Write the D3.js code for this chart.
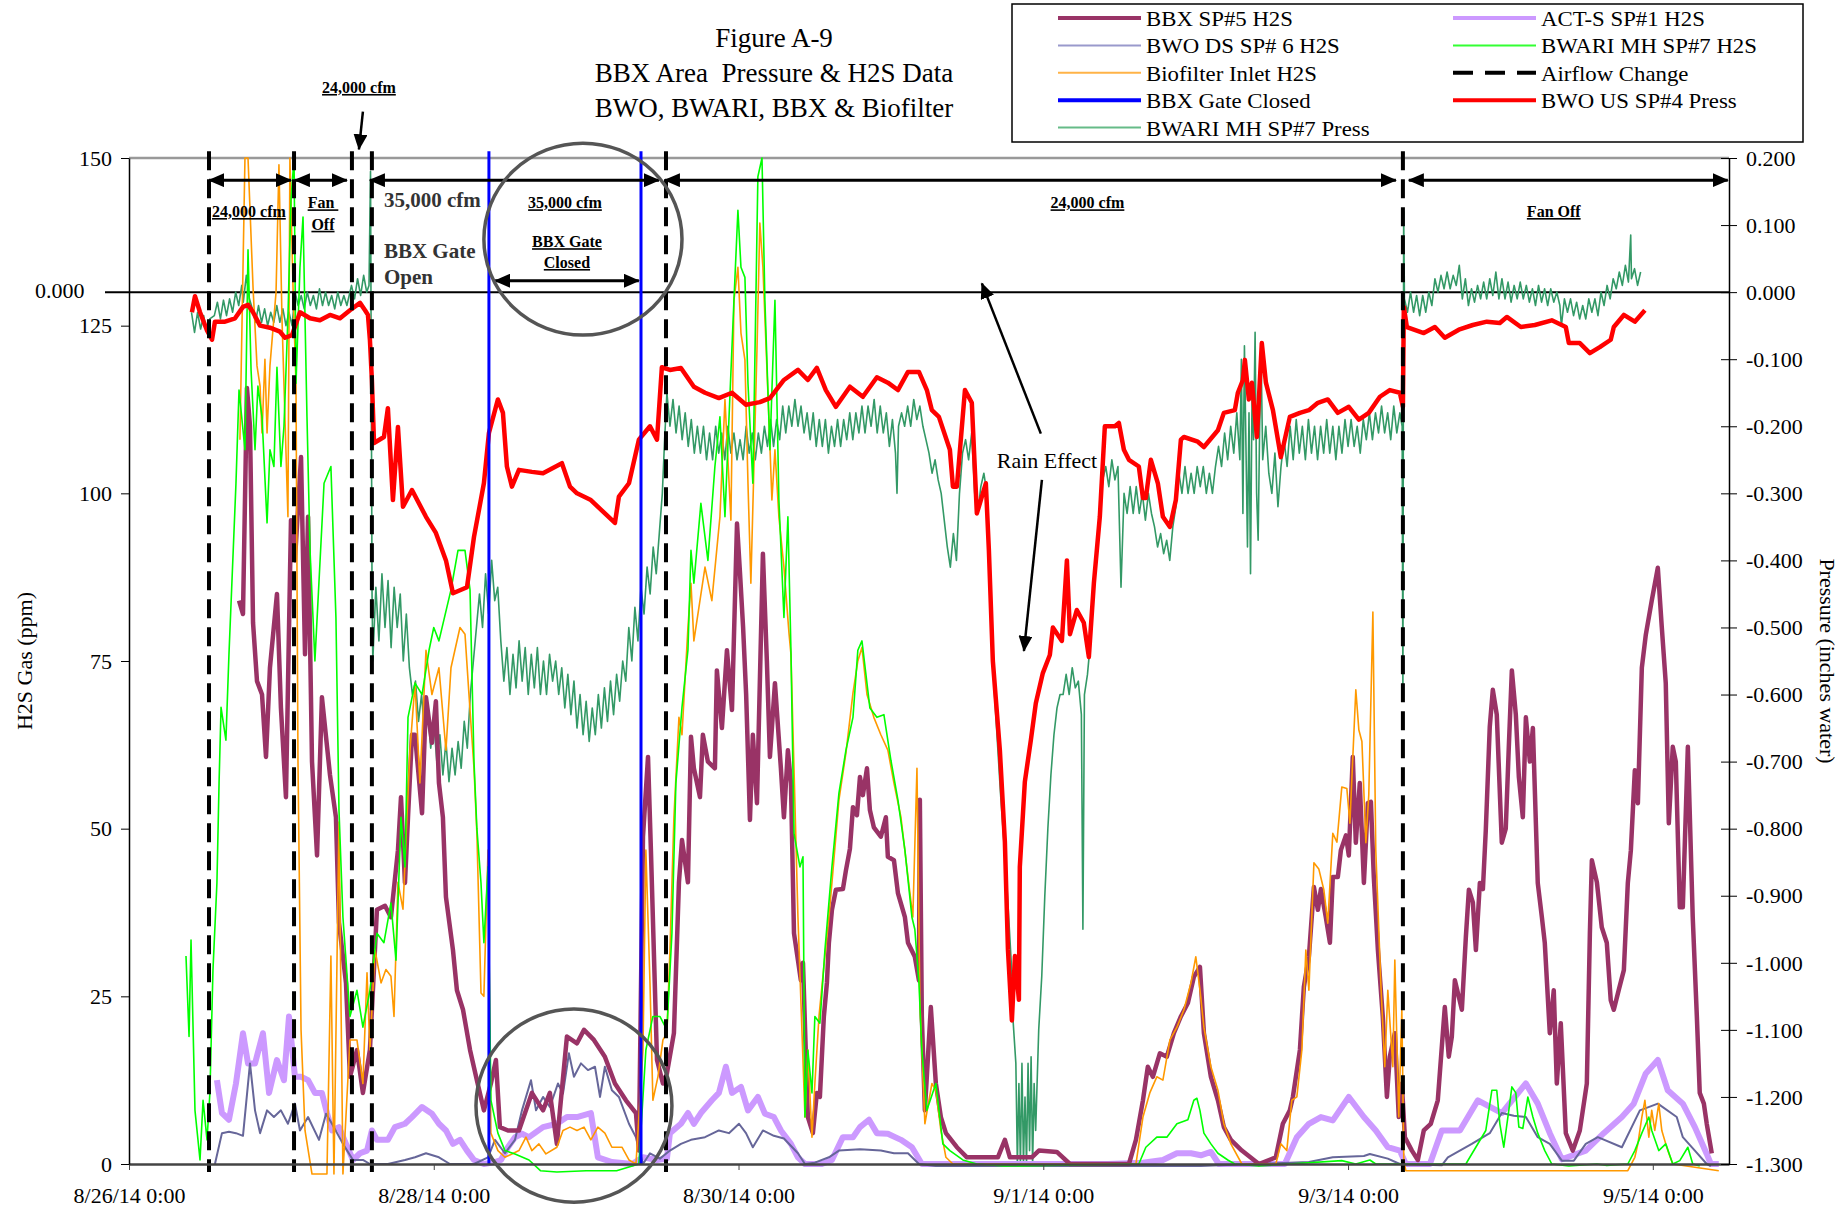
<!DOCTYPE html>
<html>
<head>
<meta charset="utf-8">
<script src="https://cdn.jsdelivr.net/npm/d3@7"></script>
<style>
body { margin: 0; background: #fff; }
text { font-family: "Liberation Serif", "Times New Roman", serif; }
</style>
</head>
<body>
<div id="chart"></div>
<script>
var width = 1844;
var height = 1209;

// margins (plot area 1600 x 1006)
var margin = {top: 158, right: 115, bottom: 45, left: 129};
var chartW = width - margin.left - margin.right;
var chartH = height - margin.top - margin.bottom;

// ---- data: time is days after 8/26/14 0:00 ----
var dateTicks = [0, 2, 4, 6, 8, 10];
var dateLabels = ['8/26/14 0:00', '8/28/14 0:00', '8/30/14 0:00', '9/1/14 0:00', '9/3/14 0:00', '9/5/14 0:00'];
var h2sTicks = [0, 25, 50, 75, 100, 125, 150];
var pressTicks = [0.2, 0.1, 0, -0.1, -0.2, -0.3, -0.4, -0.5, -0.6, -0.7, -0.8, -0.9, -1.0, -1.1, -1.2, -1.3];

var airflowChange = [0.525, 1.083, 1.463, 1.594, 3.524, 8.36];
var gateClosed = [2.362, 3.36];

// BBX SP#5 H2S (ppm)
var bbxH2S = [[0.722,84],[0.748,82],[0.774,115.7],[0.794,110],[0.814,80.7],[0.840,72],[0.873,70],[0.899,60.7],[0.925,74],[0.971,85],[0.997,68],[1.030,54.7],[1.063,96],[1.089,90],[1.129,105.4],[1.155,76],[1.175,96.5],[1.201,60],[1.234,46],[1.266,69.6],[1.319,58],[1.358,51.7],[1.378,36],[1.424,27],[1.450,13],[1.496,17],[1.535,10.6],[1.581,17],[1.627,37.9],[1.680,38.5],[1.719,36.8],[1.765,46.8],[1.785,54.7],[1.811,41.9],[1.831,51.7],[1.857,64],[1.877,64],[1.923,52.3],[1.949,69.6],[1.988,62.8],[2.014,69],[2.034,56.8],[2.060,51.7],[2.080,39.8],[2.126,31.9],[2.152,25.9],[2.192,23],[2.238,17],[2.283,12.5],[2.329,8],[2.375,12],[2.408,15.5],[2.434,5.5],[2.487,5],[2.559,5],[2.605,8],[2.644,10.6],[2.717,8],[2.762,10.6],[2.808,3],[2.828,8],[2.874,19],[2.940,18],[2.986,20],[3.051,18.5],[3.123,16],[3.189,12],[3.261,9.5],[3.327,7.6],[3.346,2],[3.373,48.8],[3.406,60.7],[3.425,46.8],[3.465,15.5],[3.504,12],[3.530,13.5],[3.576,19.5],[3.609,42],[3.629,48.3],[3.668,42],[3.688,63.7],[3.707,59],[3.747,54.7],[3.766,64],[3.799,60],[3.845,59],[3.858,73.6],[3.891,65],[3.924,76.6],[3.957,67.7],[3.990,95.5],[4.010,88],[4.030,80],[4.050,70],[4.075,51.3],[4.094,64],[4.121,53.8],[4.160,91],[4.186,75],[4.206,60.7],[4.239,71.7],[4.278,59],[4.298,51.7],[4.324,61.7],[4.344,56.8],[4.364,34.4],[4.390,30.4],[4.409,27.4],[4.423,30],[4.455,7],[4.488,4.6],[4.514,10.6],[4.534,10],[4.560,22],[4.580,27],[4.593,33],[4.613,37.9],[4.639,40.9],[4.685,41],[4.705,43.8],[4.731,47],[4.751,53.2],[4.777,52],[4.797,57.7],[4.816,55],[4.843,59],[4.862,52.8],[4.888,50.2],[4.934,48.8],[4.967,51.7],[4.980,45.8],[5.020,45.3],[5.046,40.4],[5.092,36.8],[5.112,33],[5.157,30.9],[5.184,27.4],[5.190,54.3],[5.203,22],[5.223,8],[5.262,23.4],[5.295,12],[5.328,7],[5.361,4.6],[5.433,2.5],[5.499,1],[5.702,1],[5.748,3.6],[5.781,1],[5.925,1],[5.971,2],[6.089,1.8],[6.175,0],[6.562,0],[6.608,3.6],[6.654,9.5],[6.686,14.5],[6.719,13],[6.765,16.5],[6.811,16],[6.857,19.5],[6.903,22],[6.949,24],[6.988,27.9],[7.028,29.4],[7.054,19.5],[7.100,13],[7.146,9.5],[7.185,5.5],[7.231,3.6],[7.303,2],[7.415,0],[7.526,1],[7.572,6],[7.618,8],[7.638,10],[7.684,17],[7.710,26.4],[7.743,30.9],[7.776,41.3],[7.802,37.9],[7.822,41],[7.854,36.8],[7.881,33],[7.900,42.8],[7.933,42.8],[7.953,46.8],[7.986,49],[8.005,46],[8.031,60.7],[8.051,47.9],[8.077,56.8],[8.104,41.9],[8.130,53.8],[8.150,54],[8.169,42.8],[8.196,31.9],[8.228,22],[8.255,10],[8.274,16],[8.307,19.5],[8.333,7],[8.353,12],[8.373,4],[8.419,2],[8.458,0.6],[8.497,5],[8.543,6],[8.589,9.5],[8.635,23.4],[8.661,16],[8.681,19],[8.701,27.4],[8.747,23],[8.773,33.8],[8.793,40.9],[8.819,39],[8.839,31.9],[8.865,41.9],[8.885,41],[8.904,49.8],[8.930,65.2],[8.950,70.7],[8.976,67],[9.009,47.9],[9.035,50],[9.055,62.2],[9.075,73.6],[9.101,67],[9.121,57.7],[9.147,51.7],[9.167,66.6],[9.193,60],[9.213,65],[9.245,41.9],[9.272,36.8],[9.291,33],[9.324,19.5],[9.350,25.9],[9.370,12],[9.396,21],[9.429,4.6],[9.475,2],[9.521,5],[9.567,12],[9.587,34.4],[9.600,45.3],[9.633,42],[9.665,35.3],[9.698,33],[9.724,24.4],[9.744,23],[9.777,26],[9.810,28.9],[9.836,41.9],[9.856,46.8],[9.882,58.7],[9.902,53.8],[9.928,74],[9.954,78.9],[9.993,84],[10.033,88.9],[10.059,80],[10.085,71.7],[10.105,50.8],[10.131,62.2],[10.151,60],[10.177,38.3],[10.197,38.3],[10.230,62.2],[10.262,36.8],[10.289,22],[10.308,10.6],[10.335,9],[10.354,6],[10.387,1.6]];

// ACT-S SP#1 H2S (ppm)
var actsH2S = [[0.577,12.5],[0.610,7.6],[0.656,6.6],[0.702,12],[0.748,19.5],[0.781,15],[0.827,15],[0.879,19.5],[0.919,10.6],[0.971,15.5],[1.017,12.5],[1.050,22],[1.089,13],[1.129,13],[1.175,12.5],[1.220,10.6],[1.266,10.6],[1.299,7.6],[1.332,5],[1.378,5.5],[1.424,3],[1.470,0.6],[1.516,1.6],[1.562,2],[1.594,5],[1.627,3.6],[1.699,3.6],[1.745,5.5],[1.811,6],[1.857,7],[1.923,8.5],[1.988,7.5],[2.034,6],[2.080,5],[2.126,3],[2.172,3.6],[2.218,2],[2.264,0.6],[2.329,0],[2.402,0.3],[2.441,0.6],[2.487,2.5],[2.533,4],[2.579,4.5],[2.625,4],[2.717,5.5],[2.808,6],[2.874,7],[2.940,7],[3.031,7.6],[3.077,1],[3.169,0.3],[3.301,0],[3.373,1],[3.465,0.6],[3.530,0.8],[3.550,4.6],[3.622,6],[3.668,7.6],[3.707,6],[3.753,7.6],[3.825,9.5],[3.871,10.6],[3.917,14.5],[3.957,10.6],[4.016,11.5],[4.062,8],[4.127,10],[4.173,7.5],[4.232,7],[4.278,5],[4.344,3],[4.390,1],[4.436,0],[4.547,0],[4.613,0.6],[4.685,4],[4.751,4],[4.797,5.5],[4.856,6.6],[4.908,4.6],[4.980,4.5],[5.066,3.6],[5.138,2.5],[5.203,0],[5.518,0],[5.971,0],[6.424,0],[6.654,0.2],[6.785,0.6],[6.877,1.6],[6.969,1.6],[7.034,1.3],[7.100,1.8],[7.152,0],[7.585,0],[7.664,4],[7.743,6],[7.822,7],[7.900,6.5],[8.005,10],[8.104,7],[8.182,5],[8.261,2.5],[8.340,2],[8.379,0],[8.537,0],[8.615,5],[8.734,5],[8.852,9.5],[9.009,7.6],[9.167,12],[9.245,9],[9.324,4.6],[9.403,0.7],[9.560,2],[9.678,4.6],[9.797,7],[9.875,9],[9.954,13.5],[10.033,15.5],[10.098,11],[10.197,9],[10.276,5.5],[10.354,1.5],[10.381,0],[10.433,0]];

// BWO DS SP# 6 H2S (ppm)
var bwoDsH2S = [[0.564,0],[0.610,4.6],[0.656,4.8],[0.702,4.6],[0.748,4.2],[0.794,15],[0.827,8],[0.860,4.6],[0.906,8],[0.951,7],[0.997,8],[1.043,6],[1.089,9],[1.122,5],[1.175,7],[1.247,3.6],[1.293,7.5],[1.332,6],[1.404,3],[1.470,0.6],[1.535,0.6],[1.581,0],[1.699,0],[1.811,0.6],[1.877,1],[1.949,1.6],[2.034,1],[2.106,0],[2.264,0],[2.356,1],[2.402,3.6],[2.467,1.6],[2.533,3.6],[2.579,8],[2.638,12.5],[2.671,8],[2.717,10],[2.762,8.5],[2.815,12],[2.848,10.5],[2.887,16.5],[2.920,13],[2.966,15],[3.012,14],[3.058,14.5],[3.091,10],[3.123,14.5],[3.169,11],[3.215,10],[3.281,6],[3.327,4],[3.373,0],[3.419,1.6],[3.484,0.8],[3.550,2],[3.622,3],[3.688,3.6],[3.780,4],[3.871,5],[3.937,4.6],[4.003,6],[4.049,4.6],[4.094,2.5],[4.160,5],[4.232,4.2],[4.298,3.8],[4.390,1.6],[4.436,0],[4.501,0.2],[4.593,1],[4.659,2],[4.797,2.2],[4.934,2],[5.020,1.6],[5.112,1.6],[5.184,0],[5.295,-0.3],[7.034,-0.3],[7.743,0.3],[7.900,1],[8.104,1.2],[8.143,1.5],[8.261,0.8],[8.340,0],[8.615,-0.2],[8.655,1],[8.812,3],[8.930,4.6],[9.009,7.6],[9.088,7.2],[9.167,7],[9.245,4],[9.324,3],[9.403,0.5],[9.482,0.5],[9.560,3],[9.639,4],[9.797,2.5],[9.915,8],[10.033,9],[10.157,7],[10.197,4],[10.276,2],[10.354,0],[10.381,-0.3]];

// Biofilter Inlet H2S (ppm)
var biofilterH2S = [[0.728,108],[0.761,150],[0.781,150],[0.814,130.7],[0.840,119],[0.860,116],[0.873,109],[0.892,120],[0.906,109],[0.925,119],[0.965,130],[0.984,149],[1.004,126],[1.043,96.5],[1.056,150],[1.076,131],[1.096,116],[1.109,60],[1.129,20],[1.155,5],[1.201,-1.5],[1.299,-1.5],[1.325,31],[1.345,-1.5],[1.378,51],[1.404,-1.5],[1.450,18.5],[1.496,18.5],[1.535,12],[1.562,28.5],[1.581,17],[1.614,32],[1.654,27],[1.686,29],[1.719,28],[1.739,22],[1.765,42],[1.798,38],[1.824,51.7],[1.844,61.7],[1.877,71.7],[1.909,56.8],[1.949,76.6],[1.988,70],[2.034,74],[2.080,61.7],[2.113,74],[2.172,80],[2.205,79],[2.231,70],[2.264,59],[2.283,49.3],[2.310,25.5],[2.329,25],[2.356,46.8],[2.375,4.6],[2.421,2],[2.467,1],[2.513,1.5],[2.559,2],[2.605,4],[2.644,2],[2.690,3],[2.736,1.5],[2.808,2.5],[2.848,5],[2.894,5.5],[2.940,5],[2.986,5.5],[3.031,3.6],[3.077,5.5],[3.123,4.6],[3.169,2.5],[3.235,2.5],[3.281,0.6],[3.327,0],[3.373,17],[3.392,46.8],[3.419,27],[3.438,9.5],[3.471,13],[3.504,18.5],[3.530,19.5],[3.550,31.9],[3.576,51.7],[3.609,66.6],[3.629,64],[3.668,80],[3.688,86.6],[3.707,78],[3.780,89],[3.825,84],[3.878,96.5],[3.911,114],[3.950,96],[3.970,128.8],[3.996,133.7],[4.016,123.9],[4.042,119.9],[4.062,101.5],[4.081,86.6],[4.121,121.4],[4.140,140.3],[4.160,133.7],[4.199,111.4],[4.219,99],[4.239,106.5],[4.265,96.5],[4.298,89],[4.331,79.2],[4.344,76],[4.364,59],[4.390,36.8],[4.436,7],[4.455,17],[4.482,4],[4.501,12],[4.528,22],[4.560,29.4],[4.593,36.8],[4.613,41.9],[4.659,54.3],[4.705,61.3],[4.751,70.2],[4.783,75],[4.810,77],[4.843,70],[4.888,66.6],[4.934,64],[4.980,61.7],[5.020,56.8],[5.066,51.7],[5.112,42.8],[5.144,36.8],[5.171,59],[5.190,24.4],[5.223,6],[5.269,12],[5.295,11],[5.328,5],[5.361,1],[5.407,0],[6.608,0],[6.654,7],[6.699,10.6],[6.745,13],[6.785,12.5],[6.831,18.5],[6.877,20.4],[6.923,23],[6.969,27],[7.001,30.9],[7.028,26],[7.054,20.4],[7.100,14.5],[7.146,11],[7.185,6],[7.231,3],[7.303,0],[7.526,0],[7.559,3],[7.598,2],[7.631,9.5],[7.664,10],[7.697,17],[7.723,31.9],[7.743,25.9],[7.776,44.9],[7.808,44],[7.841,40.9],[7.867,35.9],[7.900,49.3],[7.927,48],[7.959,56.2],[7.992,56],[8.012,50.8],[8.051,70.7],[8.071,64.7],[8.091,63],[8.117,47.9],[8.136,55],[8.163,82.3],[8.182,46.8],[8.215,27],[8.241,14.5],[8.261,25.9],[8.294,14.5],[8.307,30.4],[8.333,7],[8.353,23],[8.366,0.6],[8.379,-1],[9.836,-1],[9.882,1],[9.902,3],[9.928,7],[9.948,9.5],[9.974,4],[9.993,8],[10.013,5],[10.039,9],[10.059,5],[10.085,3],[10.105,1.6],[10.131,0],[10.433,-1]];

// BWARI MH SP#7 H2S (ppm)
var bwariH2S = [[0.374,31],[0.394,19],[0.407,33.4],[0.433,8],[0.466,0.6],[0.486,9.5],[0.512,3.6],[0.531,10.6],[0.551,28.9],[0.577,41.9],[0.591,56.8],[0.604,68.1],[0.636,63.2],[0.656,76],[0.702,101.5],[0.722,115.4],[0.761,106.5],[0.781,136.3],[0.801,118.4],[0.827,106.5],[0.846,116],[0.873,111.4],[0.906,95.6],[0.925,106.5],[0.951,104],[0.971,118.8],[0.997,104],[1.017,110],[1.043,126.3],[1.063,143.7],[1.083,150],[1.096,116.4],[1.122,133.7],[1.142,141.2],[1.168,111.4],[1.188,91.5],[1.220,75],[1.280,101.5],[1.325,104],[1.358,81.5],[1.378,52.8],[1.404,36.8],[1.450,22],[1.496,25.9],[1.535,20.4],[1.581,25.9],[1.627,34.4],[1.673,33],[1.719,38.9],[1.752,30.4],[1.785,51.7],[1.811,44.3],[1.831,66.6],[1.877,71.7],[1.923,70],[1.969,76.6],[2.000,80],[2.034,78],[2.113,85.6],[2.159,91.5],[2.205,91.5],[2.238,85.6],[2.264,60],[2.283,50],[2.310,41.9],[2.329,33],[2.356,44.3],[2.375,9.5],[2.421,4.6],[2.467,2],[2.533,1.5],[2.625,0.6],[2.700,-1],[2.808,-1.2],[3.000,-1],[3.200,-1],[3.346,0],[3.392,17],[3.438,22],[3.484,22],[3.530,20],[3.563,34.4],[3.589,56.8],[3.629,68.1],[3.668,76.6],[3.688,91.5],[3.707,86.6],[3.753,98.5],[3.799,90],[3.845,104],[3.878,111.4],[3.911,96.5],[3.937,111],[3.970,128.8],[3.996,142.2],[4.016,133.7],[4.042,132.2],[4.062,116.4],[4.094,101.5],[4.127,147.2],[4.154,150],[4.173,128.8],[4.206,106.5],[4.239,128.8],[4.265,99],[4.298,81.5],[4.324,96.5],[4.344,76.6],[4.364,49.3],[4.403,44.3],[4.423,45.8],[4.436,7],[4.455,17],[4.482,10.6],[4.501,22],[4.534,21],[4.567,31.9],[4.613,44.3],[4.659,55.3],[4.705,61.7],[4.751,66.6],[4.783,76.6],[4.810,78],[4.862,68],[4.908,66.6],[4.954,67],[5.000,60.2],[5.046,54.3],[5.092,46.8],[5.138,36.8],[5.157,35],[5.184,27],[5.203,17],[5.236,8],[5.295,12],[5.341,3],[5.387,2],[5.472,0.6],[5.564,0],[5.748,-0.3],[6.627,0],[6.673,2.5],[6.745,4],[6.811,4],[6.877,6],[6.949,6.6],[6.988,9.5],[7.008,9.8],[7.028,8],[7.054,4.6],[7.100,3],[7.146,1.6],[7.211,0.6],[7.257,0],[7.415,-0.3],[7.959,0.5],[8.051,0],[8.143,0.6],[8.182,0],[8.773,0],[8.904,5],[8.944,11],[8.976,11],[8.996,6],[9.022,2.5],[9.055,8],[9.075,11.5],[9.101,10.6],[9.121,5.5],[9.147,5.3],[9.180,10],[9.213,7],[9.245,4.6],[9.291,2],[9.337,0],[9.449,-0.3],[9.633,0],[9.698,-0.2],[9.836,0],[9.882,2],[9.928,4.6],[9.974,7],[9.993,5],[10.039,2],[10.085,3],[10.131,0],[10.177,0.5],[10.230,2.5],[10.262,0],[10.308,-0.3]];

// BWO US SP#4 Press (inches water)
var bwoUsPress = [[0.413,-0.03],[0.433,-0.006],[0.466,-0.03],[0.512,-0.057],[0.545,-0.071],[0.564,-0.044],[0.630,-0.044],[0.696,-0.039],[0.748,-0.022],[0.781,-0.019],[0.814,-0.03],[0.860,-0.05],[0.925,-0.053],[0.991,-0.059],[1.024,-0.068],[1.070,-0.064],[1.122,-0.03],[1.188,-0.039],[1.253,-0.042],[1.319,-0.034],[1.385,-0.039],[1.450,-0.027],[1.516,-0.016],[1.549,-0.027],[1.568,-0.034],[1.581,-0.071],[1.594,-0.131],[1.608,-0.225],[1.673,-0.216],[1.699,-0.173],[1.732,-0.31],[1.765,-0.201],[1.798,-0.32],[1.857,-0.295],[1.949,-0.335],[2.014,-0.359],[2.080,-0.40],[2.126,-0.449],[2.218,-0.44],[2.264,-0.365],[2.329,-0.285],[2.362,-0.21],[2.421,-0.16],[2.454,-0.18],[2.480,-0.26],[2.513,-0.29],[2.559,-0.265],[2.644,-0.268],[2.717,-0.27],[2.841,-0.255],[2.894,-0.29],[2.940,-0.30],[3.031,-0.31],[3.123,-0.33],[3.189,-0.344],[3.215,-0.305],[3.281,-0.285],[3.346,-0.22],[3.419,-0.20],[3.465,-0.22],[3.497,-0.112],[3.550,-0.116],[3.622,-0.113],[3.707,-0.141],[3.780,-0.15],[3.871,-0.158],[3.957,-0.15],[4.049,-0.168],[4.140,-0.164],[4.206,-0.158],[4.298,-0.131],[4.390,-0.116],[4.455,-0.131],[4.514,-0.113],[4.573,-0.146],[4.639,-0.171],[4.731,-0.141],[4.816,-0.156],[4.908,-0.127],[4.980,-0.135],[5.046,-0.146],[5.112,-0.119],[5.184,-0.119],[5.236,-0.146],[5.269,-0.176],[5.315,-0.186],[5.387,-0.235],[5.407,-0.29],[5.433,-0.29],[5.486,-0.146],[5.531,-0.165],[5.564,-0.33],[5.597,-0.305],[5.623,-0.285],[5.643,-0.385],[5.669,-0.55],[5.715,-0.683],[5.748,-0.82],[5.768,-0.98],[5.794,-1.086],[5.814,-0.99],[5.840,-1.055],[5.846,-0.857],[5.879,-0.73],[5.919,-0.667],[5.951,-0.613],[5.997,-0.568],[6.043,-0.541],[6.063,-0.50],[6.122,-0.52],[6.155,-0.40],[6.175,-0.51],[6.220,-0.474],[6.266,-0.493],[6.299,-0.544],[6.332,-0.434],[6.371,-0.335],[6.404,-0.20],[6.470,-0.20],[6.496,-0.195],[6.529,-0.235],[6.562,-0.25],[6.627,-0.26],[6.654,-0.307],[6.673,-0.307],[6.706,-0.25],[6.752,-0.285],[6.785,-0.335],[6.831,-0.35],[6.870,-0.31],[6.903,-0.22],[6.923,-0.216],[7.014,-0.223],[7.054,-0.231],[7.146,-0.206],[7.185,-0.18],[7.257,-0.176],[7.277,-0.15],[7.310,-0.131],[7.323,-0.101],[7.349,-0.16],[7.369,-0.135],[7.402,-0.216],[7.434,-0.076],[7.461,-0.135],[7.507,-0.176],[7.559,-0.246],[7.618,-0.186],[7.684,-0.18],[7.743,-0.176],[7.802,-0.165],[7.867,-0.16],[7.933,-0.18],[8.005,-0.171],[8.071,-0.19],[8.136,-0.18],[8.209,-0.156],[8.274,-0.146],[8.340,-0.15],[8.360,-0.171],[8.366,-0.022],[8.386,-0.052],[8.497,-0.061],[8.570,-0.052],[8.635,-0.068],[8.727,-0.056],[8.819,-0.049],[8.911,-0.044],[8.996,-0.046],[9.042,-0.037],[9.134,-0.052],[9.226,-0.049],[9.337,-0.042],[9.429,-0.052],[9.449,-0.076],[9.521,-0.076],[9.587,-0.091],[9.652,-0.082],[9.724,-0.071],[9.744,-0.052],[9.810,-0.034],[9.882,-0.044],[9.948,-0.027]];

// BWARI MH SP#7 Press (inches water)
var bwariPress = [[0.41,-0.03],[0.43,-0.06],[0.45,-0.03],[0.47,-0.055],[0.49,-0.035],[0.51,-0.06],[0.53,-0.04],[0.56,-0.035],[0.58,-0.015],[0.60,-0.04],[0.62,-0.012],[0.64,-0.035],[0.66,-0.01],[0.68,-0.03],[0.70,0.0],[0.72,-0.02],[0.74,0.01],[0.75,-0.015],[0.77,0.025],[0.79,-0.01],[0.81,-0.025],[0.83,-0.045],[0.85,-0.02],[0.87,-0.045],[0.89,-0.025],[0.91,-0.05],[0.93,-0.03],[0.95,-0.045],[0.97,-0.02],[0.99,-0.045],[1.01,-0.025],[1.03,-0.05],[1.05,-0.03],[1.07,-0.05],[1.09,0.0],[1.11,-0.02],[1.13,-0.005],[1.15,-0.025],[1.17,0.0],[1.19,-0.02],[1.21,-0.005],[1.23,-0.025],[1.25,0.005],[1.27,-0.02],[1.29,0.0],[1.31,-0.02],[1.33,-0.005],[1.35,-0.025],[1.37,0.0],[1.39,-0.02],[1.41,-0.005],[1.43,-0.02],[1.46,0.01],[1.48,-0.01],[1.50,0.02],[1.52,-0.005],[1.54,0.025],[1.56,0.0],[1.575,0.01],[1.585,0.18],[1.595,-0.45],[1.60,-0.55],[1.62,-0.44],[1.64,-0.52],[1.66,-0.42],[1.68,-0.5],[1.70,-0.43],[1.72,-0.53],[1.74,-0.44],[1.76,-0.5],[1.78,-0.45],[1.80,-0.55],[1.82,-0.48],[1.84,-0.56],[1.86,-0.6],[1.88,-0.58],[1.90,-0.64],[1.92,-0.6],[1.94,-0.66],[1.96,-0.62],[1.98,-0.68],[2.00,-0.64],[2.02,-0.7],[2.04,-0.66],[2.06,-0.72],[2.08,-0.67],[2.10,-0.73],[2.12,-0.68],[2.14,-0.72],[2.16,-0.67],[2.18,-0.71],[2.20,-0.64],[2.22,-0.68],[2.24,-0.6],[2.26,-0.55],[2.28,-0.5],[2.30,-0.45],[2.32,-0.5],[2.34,-0.42],[2.36,-0.48],[2.38,-0.4],[2.40,-0.46],[2.42,-0.44],[2.44,-0.52],[2.46,-0.58],[2.48,-0.53],[2.50,-0.6],[2.52,-0.54],[2.54,-0.59],[2.56,-0.52],[2.58,-0.58],[2.60,-0.53],[2.62,-0.6],[2.64,-0.54],[2.66,-0.59],[2.68,-0.53],[2.70,-0.6],[2.72,-0.55],[2.74,-0.6],[2.76,-0.54],[2.78,-0.58],[2.80,-0.55],[2.82,-0.6],[2.84,-0.56],[2.86,-0.62],[2.88,-0.57],[2.90,-0.63],[2.92,-0.58],[2.94,-0.65],[2.96,-0.6],[2.98,-0.66],[3.00,-0.61],[3.02,-0.67],[3.04,-0.62],[3.06,-0.66],[3.08,-0.6],[3.10,-0.65],[3.12,-0.59],[3.14,-0.64],[3.16,-0.58],[3.18,-0.63],[3.20,-0.57],[3.22,-0.61],[3.24,-0.55],[3.26,-0.58],[3.28,-0.5],[3.30,-0.55],[3.32,-0.47],[3.34,-0.52],[3.36,-0.44],[3.38,-0.48],[3.40,-0.41],[3.42,-0.45],[3.44,-0.38],[3.46,-0.42],[3.48,-0.36],[3.50,-0.3],[3.515,-0.22],[3.53,-0.15],[3.55,-0.2],[3.57,-0.16],[3.59,-0.21],[3.61,-0.17],[3.63,-0.22],[3.65,-0.18],[3.67,-0.23],[3.69,-0.19],[3.71,-0.24],[3.73,-0.2],[3.75,-0.24],[3.77,-0.2],[3.79,-0.25],[3.81,-0.21],[3.83,-0.25],[3.85,-0.2],[3.87,-0.24],[3.89,-0.21],[3.91,-0.25],[3.93,-0.2],[3.95,-0.24],[3.97,-0.21],[3.99,-0.25],[4.01,-0.22],[4.03,-0.25],[4.05,-0.2],[4.07,-0.24],[4.09,-0.21],[4.11,-0.25],[4.13,-0.21],[4.15,-0.24],[4.17,-0.2],[4.19,-0.23],[4.21,-0.19],[4.23,-0.23],[4.25,-0.19],[4.27,-0.22],[4.29,-0.17],[4.31,-0.21],[4.33,-0.17],[4.35,-0.2],[4.37,-0.16],[4.39,-0.2],[4.41,-0.17],[4.43,-0.21],[4.45,-0.18],[4.47,-0.22],[4.49,-0.18],[4.51,-0.23],[4.53,-0.19],[4.55,-0.23],[4.57,-0.19],[4.59,-0.24],[4.61,-0.2],[4.63,-0.23],[4.65,-0.19],[4.67,-0.23],[4.69,-0.19],[4.71,-0.22],[4.73,-0.18],[4.75,-0.22],[4.77,-0.18],[4.79,-0.21],[4.81,-0.17],[4.83,-0.21],[4.85,-0.17],[4.87,-0.2],[4.89,-0.16],[4.91,-0.21],[4.93,-0.17],[4.95,-0.21],[4.97,-0.18],[4.99,-0.23],[5.01,-0.19],[5.03,-0.24],[5.04,-0.3],[5.05,-0.2],[5.07,-0.18],[5.09,-0.2],[5.11,-0.17],[5.13,-0.2],[5.15,-0.16],[5.17,-0.19],[5.19,-0.17],[5.21,-0.2],[5.23,-0.22],[5.25,-0.24],[5.27,-0.27],[5.29,-0.25],[5.31,-0.28],[5.33,-0.3],[5.35,-0.34],[5.37,-0.38],[5.39,-0.41],[5.41,-0.36],[5.43,-0.4],[5.45,-0.3],[5.47,-0.24],[5.49,-0.22],[5.51,-0.25],[5.53,-0.21],[5.55,-0.3],[5.57,-0.33],[5.59,-0.29],[5.61,-0.27],[5.63,-0.3],[5.65,-0.45],[5.68,-0.6],[5.72,-0.75],[5.76,-0.88],[5.79,-1.0],[5.80,-1.08],[5.82,-1.15],[5.83,-1.3],[5.84,-1.18],[5.85,-1.3],[5.86,-1.15],[5.87,-1.3],[5.88,-1.2],[5.89,-1.3],[5.90,-1.15],[5.91,-1.28],[5.92,-1.14],[5.93,-1.3],[5.94,-1.18],[5.95,-1.25],[5.97,-1.1],[5.99,-1.02],[6.01,-0.9],[6.03,-0.8],[6.05,-0.72],[6.07,-0.66],[6.09,-0.62],[6.11,-0.6],[6.13,-0.6],[6.15,-0.57],[6.17,-0.6],[6.19,-0.56],[6.21,-0.59],[6.23,-0.58],[6.25,-0.63],[6.26,-0.95],[6.27,-0.6],[6.29,-0.57],[6.31,-0.52],[6.33,-0.45],[6.35,-0.38],[6.37,-0.33],[6.39,-0.28],[6.41,-0.26],[6.43,-0.29],[6.45,-0.25],[6.47,-0.28],[6.49,-0.26],[6.51,-0.44],[6.53,-0.3],[6.55,-0.33],[6.57,-0.29],[6.59,-0.33],[6.61,-0.29],[6.63,-0.33],[6.65,-0.3],[6.67,-0.34],[6.69,-0.3],[6.71,-0.33],[6.73,-0.35],[6.75,-0.38],[6.77,-0.36],[6.79,-0.39],[6.81,-0.37],[6.83,-0.4],[6.85,-0.35],[6.87,-0.32],[6.89,-0.27],[6.91,-0.3],[6.93,-0.26],[6.95,-0.3],[6.97,-0.27],[6.99,-0.3],[7.01,-0.26],[7.03,-0.29],[7.05,-0.26],[7.07,-0.3],[7.09,-0.27],[7.11,-0.3],[7.13,-0.26],[7.15,-0.23],[7.17,-0.26],[7.19,-0.21],[7.21,-0.25],[7.23,-0.2],[7.25,-0.24],[7.27,-0.18],[7.29,-0.25],[7.30,-0.1],[7.31,-0.33],[7.32,-0.08],[7.34,-0.38],[7.35,-0.18],[7.36,-0.42],[7.37,-0.15],[7.38,-0.22],[7.39,-0.06],[7.40,-0.3],[7.41,-0.37],[7.42,-0.2],[7.43,-0.1],[7.44,-0.25],[7.46,-0.2],[7.48,-0.27],[7.50,-0.3],[7.52,-0.24],[7.54,-0.32],[7.56,-0.26],[7.58,-0.22],[7.60,-0.26],[7.62,-0.2],[7.64,-0.25],[7.66,-0.19],[7.68,-0.24],[7.70,-0.2],[7.72,-0.25],[7.74,-0.19],[7.76,-0.24],[7.78,-0.2],[7.80,-0.25],[7.82,-0.2],[7.84,-0.24],[7.86,-0.19],[7.88,-0.24],[7.90,-0.2],[7.92,-0.25],[7.94,-0.2],[7.96,-0.24],[7.98,-0.19],[8.00,-0.23],[8.02,-0.19],[8.04,-0.23],[8.06,-0.2],[8.08,-0.24],[8.10,-0.19],[8.12,-0.22],[8.14,-0.18],[8.16,-0.22],[8.18,-0.18],[8.20,-0.21],[8.22,-0.17],[8.24,-0.21],[8.26,-0.18],[8.28,-0.22],[8.30,-0.17],[8.32,-0.21],[8.34,-0.18],[8.355,-0.2],[8.36,-0.6],[8.365,0.12],[8.37,-0.01],[8.39,-0.03],[8.41,0.0],[8.43,-0.03],[8.45,-0.005],[8.47,-0.035],[8.49,-0.005],[8.51,-0.03],[8.53,0.0],[8.55,-0.02],[8.57,0.02],[8.59,0.0],[8.61,0.025],[8.63,0.005],[8.65,0.03],[8.67,0.005],[8.69,0.025],[8.71,0.01],[8.73,0.04],[8.75,-0.01],[8.77,0.02],[8.79,-0.02],[8.81,0.005],[8.83,-0.015],[8.85,0.01],[8.87,-0.01],[8.89,0.015],[8.91,-0.01],[8.93,0.02],[8.95,-0.005],[8.97,0.03],[8.99,-0.01],[9.01,0.02],[9.03,-0.01],[9.05,0.015],[9.07,-0.015],[9.09,0.01],[9.11,-0.01],[9.13,0.015],[9.15,-0.01],[9.17,0.01],[9.19,-0.015],[9.21,0.005],[9.23,-0.02],[9.25,0.01],[9.27,-0.015],[9.29,0.005],[9.31,-0.02],[9.33,0.005],[9.35,-0.015],[9.37,0.0],[9.39,-0.02],[9.40,-0.05],[9.42,-0.01],[9.44,-0.03],[9.46,-0.01],[9.48,-0.035],[9.50,-0.015],[9.52,-0.04],[9.54,-0.02],[9.56,-0.04],[9.58,-0.01],[9.60,-0.03],[9.62,-0.01],[9.64,-0.035],[9.66,0.0],[9.68,-0.02],[9.70,0.01],[9.72,-0.01],[9.74,0.02],[9.76,0.005],[9.78,0.03],[9.80,0.01],[9.82,0.04],[9.84,0.015],[9.855,0.085],[9.86,0.02],[9.88,0.035],[9.90,0.01],[9.92,0.03]];

// annotation arrows: [startDay, endDay] at the flow row
var flowArrows = [[0.525, 1.063], [1.089, 1.43], [1.581, 3.478], [3.517, 8.314], [8.399, 10.492]];
var flowRowPress = 0.167;
var gateArrow = [2.402, 3.346, 0.017];

// ---- svg ----
var root = d3.select('#chart').append('svg')
    .attr('width', width)
    .attr('height', height)
    .style('background', '#fff');

var defs = root.append('defs');
defs.append('marker')
    .attr('id', 'head')
    .attr('viewBox', '0 0 16 14')
    .attr('refX', 15).attr('refY', 7)
    .attr('markerWidth', 16).attr('markerHeight', 14)
    .attr('markerUnits', 'userSpaceOnUse')
    .attr('orient', 'auto-start-reverse')
    .append('path').attr('d', 'M0,0 L16,7 L0,14 Z').attr('fill', '#000');
defs.append('marker')
    .attr('id', 'headS')
    .attr('viewBox', '0 0 16 14')
    .attr('refX', 15).attr('refY', 7)
    .attr('markerWidth', 16).attr('markerHeight', 14)
    .attr('markerUnits', 'userSpaceOnUse')
    .attr('orient', 'auto')
    .append('path').attr('d', 'M0,0 L16,7 L0,14 Z').attr('fill', '#000');

var svg = root.append('g')
    .attr('transform', `translate(${margin.left}, ${margin.top})`);

var x = d3.scaleLinear().domain([0, 10.5]).range([0, chartW]);
var yL = d3.scaleLinear().domain([0, 150]).range([chartH, 0]);
var yR = d3.scaleLinear().domain([-1.3, 0.2]).range([chartH, 0]);

// top border of plot area
svg.append('line')
    .attr('x1', 0).attr('x2', chartW).attr('y1', 0).attr('y2', 0)
    .attr('stroke', '#999').attr('stroke-width', 2.5);

// zero pressure line (extends to the left label)
svg.append('line')
    .attr('x1', -24).attr('x2', chartW)
    .attr('y1', yR(0)).attr('y2', yR(0))
    .attr('stroke', '#000').attr('stroke-width', 2);
svg.append('text')
    .attr('x', -94).attr('y', yR(0) + 6)
    .style('font-size', '22px')
    .text('0.000');

// ---- series ----
function drawSeries(data, yScale, color, w) {
    svg.append('path').datum(data)
        .attr('fill', 'none')
        .attr('stroke', color)
        .attr('stroke-width', w)
        .attr('stroke-linejoin', 'round')
        .attr('d', d3.line().x(d => x(d[0])).y(d => yScale(d[1])));
}

drawSeries(bwariPress, yR, '#339966', 1.6);
drawSeries(actsH2S, yL, '#CC99FF', 6);
drawSeries(bwoDsH2S, yL, '#666699', 2);
drawSeries(bbxH2S, yL, '#993366', 4.5);
drawSeries(biofilterH2S, yL, '#FF9900', 1.6);
drawSeries(bwariH2S, yL, '#00FF00', 1.6);
drawSeries(bwoUsPress, yR, '#FF0000', 4.5);

// ---- vertical event lines ----
svg.selectAll('.gate').data(gateClosed).enter().append('line')
    .attr('x1', d => x(d)).attr('x2', d => x(d))
    .attr('y1', yR(0.21)).attr('y2', yL(0))
    .attr('stroke', '#0000FF').attr('stroke-width', 3);

svg.selectAll('.airflow').data(airflowChange).enter().append('line')
    .attr('x1', d => x(d)).attr('x2', d => x(d))
    .attr('y1', yR(0.21)).attr('y2', yL(-1.2))
    .attr('stroke', '#000').attr('stroke-width', 4)
    .attr('stroke-dasharray', '19,9');

// ---- axes ----
var xAxis_g = svg.append('g')
    .attr('transform', `translate(0, ${chartH})`)
    .call(d3.axisBottom(x).tickValues(dateTicks).tickSize(6).tickSizeOuter(0)
        .tickFormat((d, i) => dateLabels[i]));
xAxis_g.select('.domain').attr('stroke', '#444').attr('stroke-width', 2.5);
xAxis_g.selectAll('.tick line').attr('stroke', '#444');
xAxis_g.selectAll('text').attr('y', 39).attr('dy', 0)
    .style('font-size', '22px').attr('fill', '#000')
    .style('font-family', '"Liberation Serif", serif');

var yAxis_g = svg.append('g')
    .call(d3.axisLeft(yL).tickValues(h2sTicks).tickSize(8).tickPadding(9).tickSizeOuter(0));
yAxis_g.select('.domain').attr('stroke-width', 1.5);
yAxis_g.selectAll('text').attr('dy', '0.33em')
    .style('font-size', '22px').style('font-family', '"Liberation Serif", serif');

var yAxisR_g = svg.append('g')
    .attr('transform', `translate(${chartW}, 0)`)
    .call(d3.axisRight(yR).tickValues(pressTicks).tickSize(8).tickPadding(9).tickSizeOuter(0)
        .tickFormat(d3.format('.3f')));
yAxisR_g.select('.domain').attr('stroke-width', 1.5);
yAxisR_g.selectAll('.tick line').attr('x1', -8);
yAxisR_g.selectAll('text').attr('dy', '0.33em')
    .style('font-size', '22px').style('font-family', '"Liberation Serif", serif')
    .text(d => d3.format('.3f')(d).replace('−', '-'));

// axis titles
svg.append('text')
    .attr('transform', `translate(-105, ${chartH / 2}) rotate(-90)`)
    .attr('text-anchor', 'middle').attr('dy', '0.35em')
    .style('font-size', '22px')
    .text('H2S Gas (ppm)');
svg.append('text')
    .attr('transform', `translate(${chartW + 99}, ${chartH / 2}) rotate(90)`)
    .attr('text-anchor', 'middle').attr('dy', '0.35em')
    .style('font-size', '22px')
    .text('Pressure (inches water)');

// title
var titleLines = ['Figure A-9', 'BBX Area  Pressure & H2S Data', 'BWO, BWARI, BBX & Biofilter'];
svg.selectAll('.title').data(titleLines).enter().append('text')
    .attr('x', 645)
    .attr('y', (d, i) => -111 + i * 35)
    .attr('text-anchor', 'middle')
    .style('font-size', '27px')
    .style('white-space', 'pre')
    .text(d => d);

// ---- annotations ----
svg.selectAll('.flow').data(flowArrows).enter().append('line')
    .attr('x1', d => x(d[0])).attr('x2', d => x(d[1]))
    .attr('y1', yR(flowRowPress)).attr('y2', yR(flowRowPress))
    .attr('stroke', '#000').attr('stroke-width', 3)
    .attr('marker-start', 'url(#head)').attr('marker-end', 'url(#head)');

svg.append('line')
    .attr('x1', x(gateArrow[0])).attr('x2', x(gateArrow[1]))
    .attr('y1', yR(gateArrow[2])).attr('y2', yR(gateArrow[2]))
    .attr('stroke', '#000').attr('stroke-width', 3)
    .attr('marker-start', 'url(#head)').attr('marker-end', 'url(#head)');

// single pointers: [fromDay, fromPress, toDay, toPress]
var pointers = [[1.535, 0.269, 1.509, 0.213], [5.984, -0.211, 5.597, 0.013], [5.991, -0.28, 5.873, -0.535]];
svg.selectAll('.pointer').data(pointers).enter().append('line')
    .attr('x1', d => x(d[0])).attr('y1', d => yR(d[1]))
    .attr('x2', d => x(d[2])).attr('y2', d => yR(d[3]))
    .attr('stroke', '#000').attr('stroke-width', 2.5)
    .attr('marker-end', 'url(#headS)');

// labels: [text, day, press, anchor, size, underline, color]
var notes = [
    ['24,000 cfm', 1.509, 0.297, 'middle', 16, true, '#000'],
    ['24,000 cfm', 0.787, 0.112, 'middle', 16, true, '#000'],
    ['Fan ', 1.273, 0.125, 'middle', 16, true, '#000'],
    ['Off', 1.273, 0.093, 'middle', 16, true, '#000'],
    ['35,000 cfm', 1.673, 0.127, 'start', 21, false, '#333'],
    ['BBX Gate', 1.673, 0.051, 'start', 21, false, '#333'],
    ['Open', 1.673, 0.012, 'start', 21, false, '#333'],
    ['35,000 cfm', 2.861, 0.125, 'middle', 16, true, '#000'],
    ['BBX Gate', 2.874, 0.067, 'middle', 16, true, '#000'],
    ['Closed', 2.874, 0.036, 'middle', 16, true, '#000'],
    ['24,000 cfm', 6.29, 0.125, 'middle', 16, true, '#000'],
    ['Fan Off', 9.35, 0.112, 'middle', 16, true, '#000']
];
svg.selectAll('.note').data(notes).enter().append('text')
    .attr('x', d => x(d[1])).attr('y', d => yR(d[2]))
    .attr('text-anchor', d => d[3])
    .style('font-size', d => d[4] + 'px')
    .style('font-weight', 'bold')
    .style('text-decoration', d => d[5] ? 'underline' : 'none')
    .style('white-space', 'pre')
    .attr('fill', d => d[6])
    .text(d => d[0]);

svg.append('text')
    .attr('x', x(5.695)).attr('y', yR(-0.262))
    .style('font-size', '22px')
    .text('Rain Effect');

// circled regions
var topCircle = {t0: 2.329, t1: 3.629, p0: -0.064, p1: 0.222};
svg.append('ellipse')
    .attr('cx', (x(topCircle.t0) + x(topCircle.t1)) / 2)
    .attr('cy', (yR(topCircle.p0) + yR(topCircle.p1)) / 2)
    .attr('rx', (x(topCircle.t1) - x(topCircle.t0)) / 2)
    .attr('ry', (yR(topCircle.p0) - yR(topCircle.p1)) / 2)
    .attr('fill', 'none').attr('stroke', '#555').attr('stroke-width', 3.5);
var lowCircle = {t0: 2.277, t1: 3.563, v0: -5.7, v1: 23.1};
svg.append('ellipse')
    .attr('cx', (x(lowCircle.t0) + x(lowCircle.t1)) / 2)
    .attr('cy', (yL(lowCircle.v0) + yL(lowCircle.v1)) / 2)
    .attr('rx', (x(lowCircle.t1) - x(lowCircle.t0)) / 2)
    .attr('ry', (yL(lowCircle.v0) - yL(lowCircle.v1)) / 2)
    .attr('fill', 'none').attr('stroke', '#555').attr('stroke-width', 3.5);

// ---- legend ----
var legendItems = [
    {name: 'BBX SP#5 H2S', color: '#993366', w: 4, dash: null, col: 0, row: 0},
    {name: 'BWO DS SP# 6 H2S', color: '#9999CC', w: 2, dash: null, col: 0, row: 1},
    {name: 'Biofilter Inlet H2S', color: '#FFB347', w: 2, dash: null, col: 0, row: 2},
    {name: 'BBX Gate Closed', color: '#0000FF', w: 4, dash: null, col: 0, row: 3},
    {name: 'BWARI MH SP#7 Press', color: '#66BB88', w: 2, dash: null, col: 0, row: 4},
    {name: 'ACT-S SP#1 H2S', color: '#CC99FF', w: 4, dash: null, col: 1, row: 0},
    {name: 'BWARI MH SP#7 H2S', color: '#33FF33', w: 2, dash: null, col: 1, row: 1},
    {name: 'Airflow Change', color: '#000', w: 4, dash: '20,12', col: 1, row: 2},
    {name: 'BWO US SP#4 Press', color: '#FF0000', w: 4, dash: null, col: 1, row: 3}
];
var legend = svg.append('g').attr('transform', 'translate(883, -154)');
legend.append('rect')
    .attr('width', 791).attr('height', 138)
    .attr('fill', '#fff').attr('stroke', '#000').attr('stroke-width', 1.5);
var li = legend.selectAll('.li').data(legendItems).enter().append('g')
    .attr('transform', d => `translate(${46 + d.col * 395}, ${14 + d.row * 27.4})`);
li.append('line')
    .attr('x1', 0).attr('x2', 83)
    .attr('stroke', d => d.color).attr('stroke-width', d => d.w)
    .attr('stroke-dasharray', d => d.dash);
li.append('text')
    .attr('transform', 'translate(88, 8) scale(1.14, 1)')
    .style('font-size', '20px')
    .text(d => d.name);
</script>
</body>
</html>
